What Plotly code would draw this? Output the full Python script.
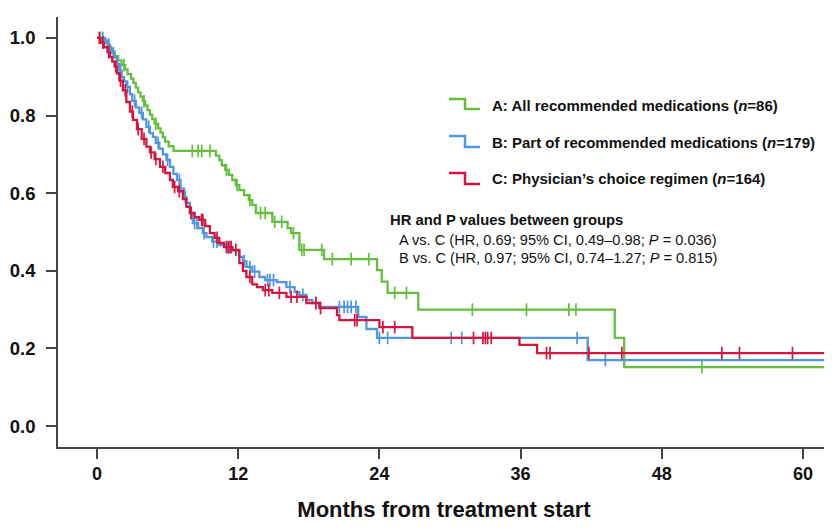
import bisect
import plotly.graph_objects as go

# ---------------- data ----------------
END_TIME = 62.3

# A: All recommended medications (n=86)
A_time = [0, 0.5, 0.9, 1.2, 1.5, 1.8, 2.1, 2.4, 2.6, 2.9,
          3.1, 3.3, 3.5, 3.7, 3.9, 4.1, 4.3, 4.5, 4.7, 4.9,
          5.2, 5.4, 5.6, 5.8, 6.1, 6.5, 10.1, 10.4, 10.6, 10.9,
          11.2, 11.5, 11.8, 12.1, 12.5, 12.9, 13.2, 13.5, 14.9, 16.2,
          16.5, 17.2, 19.3, 23.8, 24.2, 24.7, 27.3, 44.0, 44.8]
A_surv = [1.0, 0.988, 0.977, 0.965, 0.953, 0.942, 0.930, 0.919, 0.907, 0.895,
          0.884, 0.872, 0.860, 0.849, 0.837, 0.826, 0.814, 0.802, 0.791, 0.779,
          0.767, 0.756, 0.744, 0.733, 0.721, 0.709, 0.697, 0.685, 0.672, 0.660,
          0.647, 0.634, 0.621, 0.608, 0.595, 0.582, 0.570, 0.549, 0.526, 0.510,
          0.497, 0.454, 0.430, 0.402, 0.372, 0.343, 0.300, 0.227, 0.152]
A_censor = [0.3, 1.0, 2.3, 4.0, 5.0, 8.1, 8.6, 8.9, 9.6, 11.0, 11.9, 13.0, 13.9,
            14.3, 15.1, 15.7, 16.7, 17.4, 17.6, 19.1, 20.0, 21.6, 23.1, 25.3,
            26.3, 31.9, 36.5, 40.1, 40.7, 51.4]

# B: Part of recommended medications (n=179)
B_time = [0, 0.7, 0.9, 1.1, 1.3, 1.5, 1.7, 1.9, 2.1, 2.3,
          2.5, 2.8, 3.0, 3.3, 3.6, 3.9, 4.2, 4.5, 4.75, 5.0,
          5.3, 5.6, 5.9, 6.2, 6.5, 6.8, 7.1, 7.4, 7.6, 7.9,
          8.15, 8.6, 9.0, 9.3, 9.8, 10.4, 11.0, 11.5, 12.1, 12.4,
          12.7, 13.2, 13.8, 14.3, 15.3, 16.1, 16.8, 17.2, 17.8, 18.3,
          18.9, 22.2, 22.9, 23.8, 41.7]
B_surv = [1.0, 0.994, 0.983, 0.972, 0.961, 0.950, 0.933, 0.916, 0.899, 0.888,
          0.874, 0.855, 0.838, 0.821, 0.807, 0.790, 0.771, 0.755, 0.745, 0.730,
          0.715, 0.700, 0.686, 0.668, 0.650, 0.634, 0.612, 0.590, 0.575, 0.549,
          0.523, 0.510, 0.497, 0.487, 0.475, 0.466, 0.461, 0.452, 0.436, 0.425,
          0.410, 0.398, 0.384, 0.376, 0.371, 0.358, 0.345, 0.338, 0.325, 0.317,
          0.307, 0.281, 0.250, 0.227, 0.170]
B_censor = [0.5, 1.0, 1.4, 2.0, 2.6, 3.2, 3.8, 4.4, 5.2, 6.0, 7.0, 7.5, 8.0,
            8.3, 8.5, 9.1, 9.9, 10.2, 11.1, 11.3, 12.5, 13.0, 13.4, 14.5, 14.7,
            15.0, 16.4, 17.5, 18.6, 20.6, 21.0, 21.3, 21.6, 22.0, 24.0, 24.7,
            30.1, 31.0, 40.8, 43.2]

# C: Physician's choice regimen (n=164)
C_time = [0, 0.3, 0.6, 0.9, 1.1, 1.3, 1.5, 1.7, 1.9, 2.2,
          2.5, 2.8, 3.06, 3.4, 3.8, 4.2, 4.5, 4.9, 5.35, 5.8,
          6.2, 6.45, 6.9, 7.3, 7.6, 7.9, 8.3, 8.7, 9.2, 9.6,
          10.0, 10.4, 10.8, 11.5, 12.1, 12.4, 12.7, 13.2, 13.6, 14.1,
          14.9, 16.1, 17.8, 18.9, 20.4, 20.6, 24.0, 26.8, 35.9, 37.4]
C_surv = [1.0, 0.988, 0.976, 0.963, 0.951, 0.939, 0.927, 0.909, 0.890, 0.865,
          0.835, 0.810, 0.789, 0.765, 0.740, 0.720, 0.705, 0.688, 0.668, 0.652,
          0.634, 0.616, 0.605, 0.585, 0.565, 0.549, 0.538, 0.531, 0.515, 0.497,
          0.485, 0.472, 0.461, 0.454, 0.420, 0.400, 0.384, 0.365, 0.358, 0.350,
          0.343, 0.333, 0.317, 0.304, 0.286, 0.273, 0.255, 0.227, 0.209, 0.188]
C_censor = [0.2, 0.5, 1.0, 1.6, 2.0, 2.4, 3.0, 3.5, 4.0, 4.6, 5.0, 5.6, 6.6,
            7.0, 8.0, 8.9, 9.0, 10.2, 11.0, 11.2, 11.4, 11.8, 13.0, 14.3, 14.6,
            15.5, 16.5, 17.0, 18.6, 19.0, 21.9, 22.1, 24.3, 25.3, 32.0, 32.8,
            33.0, 33.2, 33.5, 38.2, 38.5, 41.8, 44.6, 53.1, 54.6, 59.1]

X_TICKS = [0, 12, 24, 36, 48, 60]
Y_TICKS = [0.0, 0.2, 0.4, 0.6, 0.8, 1.0]
Y_TICK_TEXT = ["0.0", "0.2", "0.4", "0.6", "0.8", "1.0"]

LEGEND_TEXT = [
    "A: All recommended medications (<i>n</i>=86)",
    "B: Part of recommended medications (<i>n</i>=179)",
    "C: Physician\u2019s choice regimen (<i>n</i>=164)",
]
HR_TITLE = "HR and P values between groups"
HR_LINES = [
    "A vs. C (HR, 0.69; 95% CI, 0.49\u20130.98; <i>P</i> = 0.036)",
    "B vs. C (HR, 0.97; 95% CI, 0.74\u20131.27; <i>P</i> = 0.815)",
]

GREEN = "#62c03c"
BLUE = "#4f97e3"
RED = "#d6163f"
AXIS = "#444444"
FONT = "Liberation Sans, Arial, Helvetica, sans-serif"

# ---------------- helpers ----------------
OFF = 8                      # page body margin of the html page
W, H = 832 - OFF, 530 - OFF  # figure size
# target plot-area box on the screenshot: x 58..830, y 17..447
ML, MT = 58 - OFF, 17 - OFF
MR = W - (830 - OFF)
MB = H - (447 - OFF)


def px_to_paper(px, py):
    """screenshot pixel -> paper coordinate"""
    x = px - OFF
    y = py - OFF
    return (x - ML) / (W - ML - MR), (H - MB - y) / (H - MT - MB)


def step_xy(times, surv, end):
    return list(times) + [end], list(surv) + [surv[-1]]


def surv_at(times, surv, t):
    i = bisect.bisect_right(times, t) - 1
    return surv[max(i, 0)]


fig = go.Figure()
groups = [(A_time, A_surv, A_censor, GREEN),
          (B_time, B_surv, B_censor, BLUE),
          (C_time, C_surv, C_censor, RED)]
for times, surv, cens, col in groups:
    xs, ys = step_xy(times, surv, END_TIME)
    fig.add_trace(go.Scatter(x=xs, y=ys, mode="lines",
                             line=dict(color=col, width=2.3, shape="hv"),
                             showlegend=False, hoverinfo="skip"))
    fig.add_trace(go.Scatter(x=cens, y=[surv_at(times, surv, c) for c in cens],
                             mode="markers",
                             marker=dict(symbol="line-ns-open", size=9, color=col,
                                         line=dict(color=col, width=1.7)),
                             showlegend=False, hoverinfo="skip"))

# legend icons (step glyphs) and labels
legend_rows = [(99, 109, 105, GREEN), (136, 147, 142, BLUE), (173, 184, 178, RED)]
shapes = []
annotations = []
for (ytop, ybot, ytxt, col), label in zip(legend_rows, LEGEND_TEXT):
    x0, y0 = px_to_paper(449, ytop)
    x1, _ = px_to_paper(465, ytop)
    x2, y1 = px_to_paper(480, ybot)
    shapes.append(dict(type="path", xref="paper", yref="paper",
                       path=f"M {x0},{y0} L {x1},{y0} L {x1},{y1} L {x2},{y1}",
                       line=dict(color=col, width=2.5)))
    tx, ty = px_to_paper(490, ytxt)
    annotations.append(dict(x=tx, y=ty, xref="paper", yref="paper",
                            text=label, showarrow=False, xanchor="left",
                            yanchor="middle",
                            font=dict(family=FONT, size=15, color="#111",
                                      weight="bold")))

tx, ty = px_to_paper(388, 220)
annotations.append(dict(x=tx, y=ty, xref="paper", yref="paper", text=HR_TITLE,
                        showarrow=False, xanchor="left", yanchor="middle",
                        font=dict(family=FONT, size=14.8, color="#111",
                                  weight="bold")))
for line, ypx in zip(HR_LINES, [240, 258]):
    tx, ty = px_to_paper(397, ypx)
    annotations.append(dict(x=tx, y=ty, xref="paper", yref="paper", text=line,
                            showarrow=False, xanchor="left", yanchor="middle",
                            font=dict(family=FONT, size=14.6, color="#111")))

fig.update_layout(
    width=W, height=H,
    margin=dict(l=ML, r=MR, t=MT, b=MB, autoexpand=False),
    paper_bgcolor="white", plot_bgcolor="white",
    shapes=shapes, annotations=annotations,
    xaxis=dict(range=[-3.31, 62.29], tickvals=X_TICKS, ticks="outside",
               ticklen=10, tickwidth=1.5, tickcolor=AXIS,
               showline=True, linecolor=AXIS, linewidth=1.5,
               showgrid=False, zeroline=False,
               tickfont=dict(family=FONT, size=18, color="#111", weight="bold"),
               title=dict(text="Months from treatment start", standoff=18,
                          font=dict(family=FONT, size=22, color="#111",
                                    weight="bold"))),
    yaxis=dict(range=[-0.054, 1.054], tickvals=Y_TICKS, ticktext=Y_TICK_TEXT,
               ticks="outside", ticklen=10, tickwidth=1.5, tickcolor=AXIS,
               showline=True, linecolor=AXIS, linewidth=1.5,
               showgrid=False, zeroline=False, ticklabelstandoff=7,
               tickfont=dict(family=FONT, size=18.5, color="#111", weight="bold")),
)

fig.write_html("out.html")
